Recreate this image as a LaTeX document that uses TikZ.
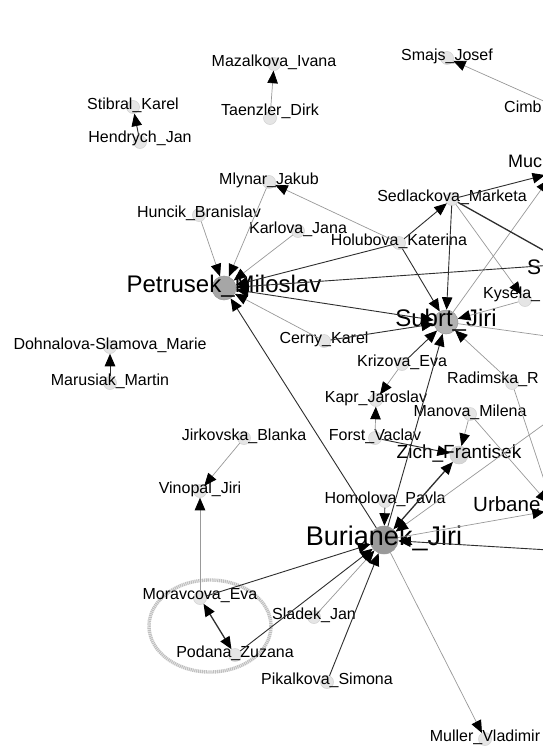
\documentclass[tikz,border=0pt]{standalone}
\usepackage{fontspec}
\setmainfont{Liberation Sans}
\usetikzlibrary{arrows.meta}

\begin{document}
\begin{tikzpicture}[x=1pt, y=-1pt,
    >={Triangle[length=12.5pt,width=10.5pt,black]},
    vtx/.style={circle, fill=black!10, draw=black!18, line width=0.5pt, inner sep=0pt, minimum size=13pt},
    hub/.style={circle, fill=black!35, draw=black!40, line width=0.5pt, inner sep=0pt, minimum size=24pt},
    lbl/.style={font=\fontsize{16}{18}\selectfont, inner sep=0pt, text=black, yshift=2pt},
    lt/.style={draw=black!40, line width=0.7pt, ->},
    dk/.style={draw=black!82, line width=0.9pt, ->}]

    % 範囲
    \useasboundingbox (0,0) rectangle (543,747);
    \clip (0,0) rectangle (543,747);
    \fill[white] (0,0) rectangle (543,747);

    % 楕円
    \draw[black!25, line width=3.4pt, dash pattern=on 1.2pt off 0.7pt] (210,626) ellipse [x radius=61pt, y radius=46pt];

    % 頂点
    \node[vtx, label={[lbl]center:Mazalkova\_Ivana}] (mazalkova) at (274,64) {};
    \node[vtx, label={[lbl, yshift=5pt]center:Taenzler\_Dirk}] (taenzler) at (270,118) {};
    \node[vtx, label={[lbl]center:Smajs\_Josef}] (smajs) at (447,58) {};
    \node[vtx, label={[lbl]center:Stibral\_Karel}] (stibral) at (133,107) {};
    \node[vtx, label={[lbl, yshift=2pt]center:Hendrych\_Jan}] (hendrych) at (140,142) {};
    \node[vtx, label={[lbl]center:Mlynar\_Jakub}] (mlynar) at (269,182) {};
    \node[vtx, label={[lbl]center:Huncik\_Branislav}] (huncik) at (199,215) {};
    \node[vtx, label={[lbl]center:Karlova\_Jana}] (karlova) at (298,231) {};
    \node[vtx, label={[lbl]center:Holubova\_Katerina}] (holubova) at (399,243) {};
    \node[vtx, label={[lbl]center:Sedlackova\_Marketa}] (sedlackova) at (452,199) {};
    \node[hub, label={[lbl, font=\fontsize{24}{26}\selectfont]center:Petrusek\_Miloslav}] (petrusek) at (224,288) {};
    \node[hub, fill=black!30, label={[lbl, font=\fontsize{24}{26}\selectfont]center:Subrt\_Jiri}] (subrt) at (446,322) {};
    \node[vtx, label={[lbl]center:Cerny\_Karel}] (cerny) at (324,341) {};
    \node[vtx, label={[lbl]center:Krizova\_Eva}] (krizova) at (402,364) {};
    \node[vtx, label={[lbl]center:Kapr\_Jaroslav}] (kapr) at (376,400) {};
    \node[vtx, label={[lbl]center:Manova\_Milena}] (manova) at (470,414) {};
    \node[vtx, label={[lbl]center:Forst\_Vaclav}] (forst) at (375,438) {};
    \node[hub, minimum size=18pt, fill=black!16, draw=black!20, label={[lbl, font=\fontsize{19}{21}\selectfont]center:Zich\_Frantisek}] (zich) at (459,455) {};
    \node[vtx, label={[lbl]center:Jirkovska\_Blanka}] (jirkovska) at (244,438) {};
    \node[vtx, label={[lbl]center:Vinopal\_Jiri}] (vinopal) at (200,491) {};
    \node[vtx, label={[lbl]center:Dohnalova-Slamova\_Marie}] (dohnalova) at (110,347) {};
    \node[vtx, label={[lbl]center:Marusiak\_Martin}] (marusiak) at (110,383) {};
    \node[vtx, label={[lbl]center:Homolova\_Pavla}] (homolova) at (385,501) {};
    \node[hub, minimum size=28pt, fill=black!40, label={[lbl, font=\fontsize{27}{29}\selectfont]center:Burianek\_Jiri}] (burianek) at (384,540) {};
    \node[vtx, label={[lbl]center:Moravcova\_Eva}] (moravcova) at (200,598) {};
    \node[vtx, label={[lbl]center:Podana\_Zuzana}] (podana) at (235,655) {};
    \node[vtx, label={[lbl]center:Sladek\_Jan}] (sladek) at (314,617) {};
    \node[vtx, label={[lbl]center:Pikalkova\_Simona}] (pikalkova) at (327,682) {};
    \node[vtx, label={[lbl]center:Muller\_Vladimir}] (muller) at (485,739) {};
    \node[vtx] (kysela) at (525,300) {};
    \node[vtx] (radimska) at (512,383) {};

    % 右端の頂点
    \node[vtx] (cimb) at (566,111) {};
    \node[vtx, minimum size=16pt] (muc) at (553,173) {};
    \node[vtx, minimum size=18pt] (snode) at (568,264) {};
    \node[vtx, minimum size=18pt] (urbane) at (554,510) {};
    \node[vtx] (offa) at (572,404) {};
    \node[vtx] (offb) at (582,341) {};
    \node[vtx] (offc) at (582,552) {};
    \node[lbl, anchor=west] (cimb-l) at (504,109) {Cimb};
    \node[lbl, anchor=west, font=\fontsize{18}{20}\selectfont] (muc-l) at (508,163) {Muc};
    \node[lbl, anchor=west, font=\fontsize{21}{23}\selectfont] (snode-l) at (527,269) {S};
    \node[lbl, anchor=west] (kysela-l) at (483,296) {Kysela\_};
    \node[lbl, anchor=west] (radimska-l) at (447,381) {Radimska\_R};
    \node[lbl, anchor=west, font=\fontsize{20.5}{23}\selectfont] (urbane-l) at (473,506) {Urbane};

    % 辺
    \draw[lt] (taenzler) -- (mazalkova);
    \draw[lt] (cimb) -- (smajs);
    \draw[dk] (hendrych) -- (stibral);
    \draw[dk] (marusiak) -- (dohnalova);
    \draw[lt] (jirkovska) -- (vinopal);
    \draw[lt] (moravcova) -- (vinopal);
    \draw[dk, <->, line width=1.3pt] (moravcova) -- (podana);
    \draw[dk] (moravcova) -- (burianek);
    \draw[dk] (podana) -- (burianek);
    \draw[lt] (sladek) -- (burianek);
    \draw[dk] (pikalkova) -- (burianek);
    \draw[lt] (burianek) -- (muller);
    \draw[dk] (burianek) -- (petrusek);
    \draw[dk] (homolova) -- (burianek);
    \draw[dk, <->, line width=1.3pt] (burianek) -- (zich);
    \draw[dk] (burianek) -- (subrt);
    \draw[lt] (burianek) -- (urbane);
    \draw[lt] (offa) -- (burianek);
    \draw[dk] (offc) -- (burianek);
    \draw[lt] (manova) -- (zich);
    \draw[dk] (forst) -- (zich);
    \draw[lt] (forst) -- (kapr);
    \draw[lt] (krizova) -- (kapr);
    \draw[lt] (manova) -- (urbane);
    \draw[lt] (radimska) -- (urbane);
    \draw[lt] (radimska) -- (subrt);
    \draw[lt] (kysela) -- (subrt);
    \draw[lt] (subrt) -- (offb);
    \draw[lt] (subrt) -- (muc);
    \draw[dk] (sedlackova) -- (muc);
    \draw[dk] (sedlackova) -- (subrt);
    \draw[dk] (holubova) -- (sedlackova);
    \draw[dk] (holubova) -- (subrt);
    \draw[dk, line width=1.3pt] (sedlackova) -- (snode);
    \draw[lt] (sedlackova) -- (kysela);
    \draw[dk] (holubova) -- (petrusek);
    \draw[dk] (snode) -- (petrusek);
    \draw[dk, <->] (petrusek) -- (subrt);
    \draw[lt] (cerny) -- (petrusek);
    \draw[dk] (cerny) -- (subrt);
    \draw[lt] (mlynar) -- (petrusek);
    \draw[lt] (huncik) -- (petrusek);
    \draw[lt] (karlova) -- (petrusek);
    \draw[lt] (holubova) -- (mlynar);
    \draw[dk] (krizova) -- (subrt);

\end{tikzpicture}
\end{document}
